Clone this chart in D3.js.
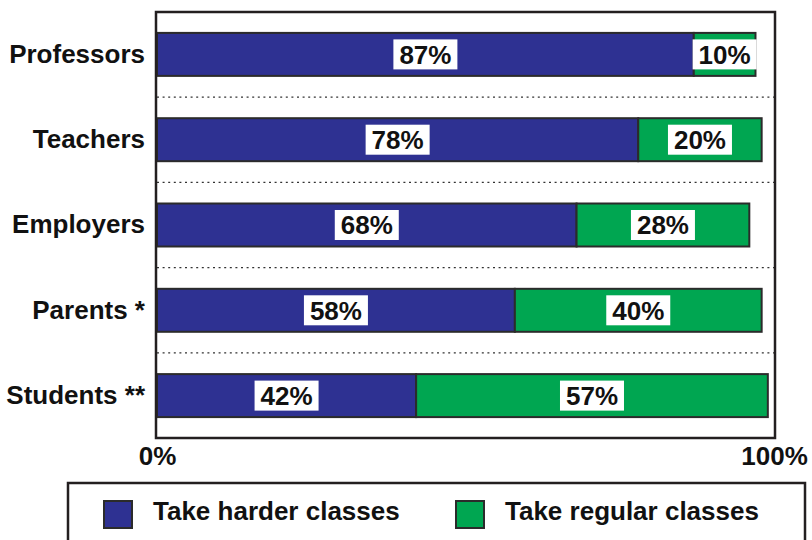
<!DOCTYPE html>
<html>
<head>
<meta charset="utf-8">
<script src="https://cdn.jsdelivr.net/npm/d3@7"></script>
<style>
  body { margin: 0; background: #fff; }
  text { font-family: "Liberation Sans", Arial, sans-serif; font-weight: bold; }
</style>
</head>
<body>
<div id="chart-area"></div>
<script>
var categories = ["Professors", "Teachers", "Employers", "Parents *", "Students **"]
var harder = [87, 78, 68, 58, 42]
var regular = [10, 20, 28, 40, 57]
var seriesNames = ["Take harder classes", "Take regular classes"]
var xTicks = [0, 100]

var colors = ["#2e3192", "#00a651"]

var width = 812, height = 540
var frame = {left: 156, right: 775, top: 12, bottom: 438}

var svg = d3.select("#chart-area")
    .append("svg")
    .attr("width", width)
    .attr("height", height)

var x = d3.scaleLinear()
    .domain([0, 100])
    .range([157, 774])

var y = d3.scaleBand()
    .domain(categories)
    .range([frame.top, frame.bottom])
    .paddingInner(0.496)
    .paddingOuter(0.245)

// dotted separators between the rows
var seps = categories.slice(0, -1).map(function(c){
    return y(c) + y.bandwidth() + (y.step() - y.bandwidth()) / 2
})
svg.selectAll("line.sep")
    .data(seps)
    .enter().append("line")
    .attr("class", "sep")
    .attr("x1", frame.left + 1)
    .attr("x2", frame.right)
    .attr("y1", function(d){ return d })
    .attr("y2", function(d){ return d })
    .attr("stroke", "#333")
    .attr("stroke-width", 1.2)
    .attr("stroke-dasharray", "2,3.6")

// stacked segments
var rows = categories.map(function(c, i){
    return {name: c, values: [harder[i], regular[i]]}
})

var segs = []
rows.forEach(function(r){
    var start = 0
    r.values.forEach(function(v, j){
        segs.push({name: r.name, x0: start, x1: start + v, v: v, s: j})
        start += v
    })
})

svg.selectAll("rect.seg")
    .data(segs)
    .enter().append("rect")
    .attr("class", "seg")
    .attr("x", function(d){ return x(d.x0) })
    .attr("y", function(d){ return y(d.name) })
    .attr("width", function(d){ return x(d.x1) - x(d.x0) })
    .attr("height", y.bandwidth())
    .attr("fill", function(d){ return colors[d.s] })
    .attr("stroke", "#2b2b2b")
    .attr("stroke-width", 2)

// value labels on white boxes
var lab = svg.selectAll("g.lab")
    .data(segs)
    .enter().append("g")
    .attr("class", "lab")
    .attr("transform", function(d){
        return "translate(" + ((x(d.x0) + x(d.x1)) / 2) + "," + (y(d.name) + y.bandwidth() / 2) + ")"
    })

lab.append("rect")
    .attr("x", -32)
    .attr("y", -15)
    .attr("width", 64)
    .attr("height", 30)
    .attr("fill", "#fff")

lab.append("text")
    .attr("text-anchor", "middle")
    .attr("dy", "0.36em")
    .attr("font-size", 26)
    .attr("fill", "#111")
    .text(function(d){ return d.v + "%" })

// frame
svg.append("rect")
    .attr("x", frame.left)
    .attr("y", frame.top)
    .attr("width", frame.right - frame.left)
    .attr("height", frame.bottom - frame.top)
    .attr("fill", "none")
    .attr("stroke", "#231f20")
    .attr("stroke-width", 2.5)

// axes
var yAxis = svg.append("g")
    .attr("transform", "translate(145,0)")
    .call(d3.axisLeft(y).tickSize(0).tickPadding(0))
yAxis.select(".domain").remove()
yAxis.selectAll("text")
    .attr("font-size", 26)
    .attr("fill", "#111")
    .style("font-family", "'Liberation Sans', Arial, sans-serif")
    .style("font-weight", "bold")

var xAxis = svg.append("g")
    .attr("transform", "translate(0,446)")
    .call(d3.axisBottom(x).tickValues(xTicks).tickSize(0).tickPadding(0)
        .tickFormat(function(d){ return d + "%" }))
xAxis.select(".domain").remove()
xAxis.selectAll("text")
    .attr("dy", "0.72em")
    .attr("font-size", 26)
    .attr("fill", "#111")
    .style("font-family", "'Liberation Sans', Arial, sans-serif")
    .style("font-weight", "bold")

// legend
svg.append("rect")
    .attr("x", 68)
    .attr("y", 483)
    .attr("width", 737)
    .attr("height", 80)
    .attr("fill", "#fff")
    .attr("stroke", "#231f20")
    .attr("stroke-width", 2.5)

var legX = [104, 456]
var leg = svg.selectAll("g.leg")
    .data(seriesNames)
    .enter().append("g")
    .attr("class", "leg")
    .attr("transform", function(d, i){ return "translate(" + legX[i] + ",501)" })

leg.append("rect")
    .attr("width", 28)
    .attr("height", 27)
    .attr("fill", function(d, i){ return colors[i] })
    .attr("stroke", "#2b2b2b")
    .attr("stroke-width", 2)

leg.append("text")
    .attr("x", 49)
    .attr("y", 19)
    .attr("font-size", 26)
    .attr("fill", "#111")
    .text(function(d){ return d })
</script>
</body>
</html>
